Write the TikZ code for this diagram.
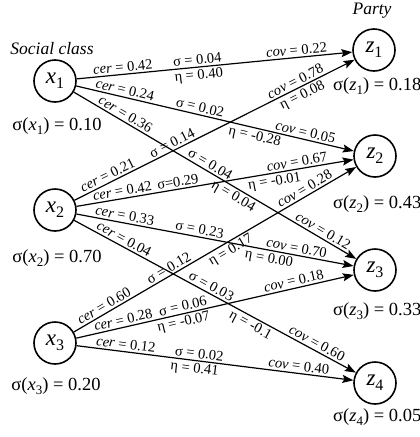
\documentclass[tikz,border=0pt]{standalone}
\usepackage{fontspec}
\setmainfont{Liberation Serif}
\usetikzlibrary{arrows.meta}
\newcommand{\sbsA}[1]{\raisebox{-0.5ex}{\fontsize{16}{16}\selectfont #1}}
\newcommand{\sbsB}[1]{\raisebox{-0.5ex}{\fontsize{13}{13}\selectfont #1}}
\tikzset{
  vnode/.style={circle, draw, line width=1.6pt, minimum size=42pt, inner sep=0pt,
    font=\fontsize{23}{23}\selectfont},
  edge/.style={line width=1.2pt, -{Stealth[length=11pt,width=8pt,inset=2pt]}},
  lab/.style={sloped, inner sep=2pt, font=\fontsize{14.5}{14.5}\selectfont},
  big/.style={inner sep=0pt, font=\fontsize{18.5}{18.5}\selectfont},
  ttl/.style={inner sep=0pt, font=\fontsize{17.5}{17.5}\selectfont\itshape},
}
\begin{document}
\begin{tikzpicture}[x=1pt,y=-1pt]
\useasboundingbox (0,0) rectangle (420,437);
% nodes
\node[vnode] (x1) at (55,81) {\textit{x}\sbsA{1}};
\node[vnode] (x2) at (55,210) {\textit{x}\sbsA{2}};
\node[vnode] (x3) at (55,343) {\textit{x}\sbsA{3}};
\node[vnode] (z1) at (374,50) {\textit{z}\sbsA{1}};
\node[vnode] (z2) at (375,156) {\textit{z}\sbsA{2}};
\node[vnode] (z3) at (375,270) {\textit{z}\sbsA{3}};
\node[vnode] (z4) at (375,383) {\textit{z}\sbsA{4}};
% titles
\node[ttl] (tsc) at (52,49) {Social class};
\node[ttl] (tpa) at (372,11) {Party};
% sigma labels
\node[big] (sx1) at (57,126) {σ(\textit{x}\sbsB{1}) = 0.10};
\node[big] (sx2) at (57,258) {σ(\textit{x}\sbsB{2}) = 0.70};
\node[big] (sx3) at (56,386) {σ(\textit{x}\sbsB{3}) = 0.20};
\node[big, anchor=west] (sz1) at (333,86) {σ(\textit{z}\sbsB{1}) = 0.18};
\node[big, anchor=west] (sz2) at (333,204) {σ(\textit{z}\sbsB{2}) = 0.43};
\node[big, anchor=west] (sz3) at (333,311) {σ(\textit{z}\sbsB{3}) = 0.33};
\node[big, anchor=west] (sz4) at (333,417) {σ(\textit{z}\sbsB{4}) = 0.05};
% edges from x1
\draw[edge] (x1) -- (z1)
  node[lab,pos=0.17,above] {\textit{cer} = 0.42}
  node[lab,pos=0.44,above] {σ = 0.04}
  node[lab,pos=0.44,below] {η = 0.40}
  node[lab,pos=0.80,above] {\textit{cov} = 0.22};
\draw[edge] (x1) -- (z2)
  node[lab,pos=0.17,above] {\textit{cer} = 0.24}
  node[lab,pos=0.44,above] {σ = 0.02}
  node[lab,pos=0.65,below] {η = -0.28}
  node[lab,pos=0.82,above] {\textit{cov} = 0.05};
\draw[edge] (x1) -- (z3)
  node[lab,pos=0.17,above] {\textit{cer} = 0.36}
  node[lab,pos=0.47,above] {σ = 0.04}
  node[lab,pos=0.58,below] {η = 0.04}
  node[lab,pos=0.87,above] {\textit{cov} = 0.12};
% edges from x2
\draw[edge] (x2) -- (z1)
  node[lab,pos=0.13,above] {\textit{cer} = 0.21}
  node[lab,pos=0.36,above] {σ = 0.14}
  node[lab,pos=0.80,below] {η = 0.08}
  node[lab,pos=0.80,above] {\textit{cov} = 0.78};
\draw[edge] (x2) -- (z2)
  node[lab,pos=0.17,above] {\textit{cer} = 0.42}
  node[lab,pos=0.37,above] {σ=0.29}
  node[lab,pos=0.71,below] {η = -0.01}
  node[lab,pos=0.80,above] {\textit{cov} = 0.67};
\draw[edge] (x2) -- (z3)
  node[lab,pos=0.17,above] {\textit{cer} = 0.33}
  node[lab,pos=0.44,above] {σ = 0.23}
  node[lab,pos=0.70,below] {η = 0.00}
  node[lab,pos=0.79,above] {\textit{cov} = 0.70};
\draw[edge] (x2) -- (z4)
  node[lab,pos=0.165,above] {\textit{cer} = 0.04}
  node[lab,pos=0.475,above] {σ = 0.03}
  node[lab,pos=0.64,below] {η = -0.1}
  node[lab,pos=0.85,above] {\textit{cov} = 0.60};
% edges from x3
\draw[edge] (x3) -- (z2)
  node[lab,pos=0.12,above] {\textit{cer} = 0.60}
  node[lab,pos=0.35,above] {σ = 0.12}
  node[lab,pos=0.54,below] {η = 0.17}
  node[lab,pos=0.83,above] {\textit{cov} = 0.28};
\draw[edge] (x3) -- (z3)
  node[lab,pos=0.175,above] {\textit{cer} = 0.28}
  node[lab,pos=0.39,above] {σ = 0.06}
  node[lab,pos=0.38,below] {η = -0.07}
  node[lab,pos=0.79,above] {\textit{cov} = 0.18};
\draw[edge] (x3) -- (z4)
  node[lab,pos=0.175,above] {\textit{cer} = 0.12}
  node[lab,pos=0.44,above] {σ = 0.02}
  node[lab,pos=0.43,below] {η = 0.41}
  node[lab,pos=0.80,above] {\textit{cov} = 0.40};
\end{tikzpicture}
\end{document}
